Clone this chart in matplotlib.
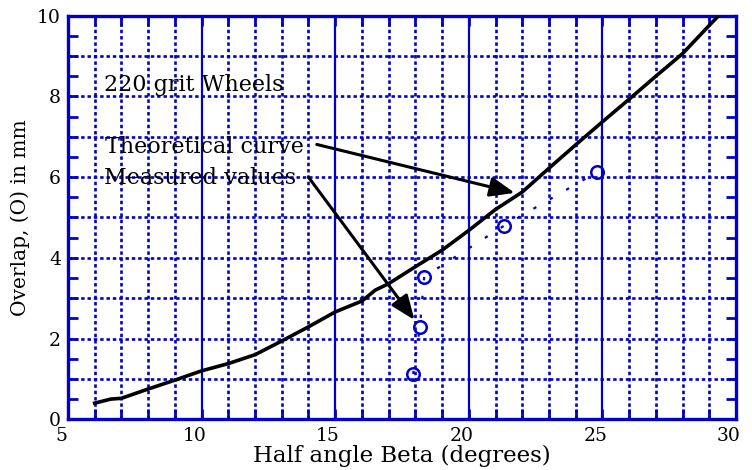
import matplotlib
matplotlib.use("Agg")
import matplotlib.pyplot as plt
import matplotlib.transforms as mtransforms
from matplotlib.ticker import MultipleLocator

# Theoretical curve
theory_beta = [6.0, 6.6, 7.0, 8.0, 9.0, 10.0, 11.0, 12.0, 13.0, 14.0, 15.0, 16.0, 16.5,
               17.0, 18.0, 19.0, 20.0, 21.0, 22.0, 23.0, 24.0, 25.0, 26.0, 27.0, 28.0, 29.0, 29.35]
theory_overlap = [0.40, 0.50, 0.52, 0.75, 0.97, 1.20, 1.38, 1.60, 1.94, 2.29, 2.66, 2.93, 3.20,
                  3.36, 3.78, 4.19, 4.68, 5.20, 5.63, 6.22, 6.80, 7.37, 7.93, 8.50, 9.06, 9.76, 10.0]

# Measured values
meas_beta = [17.92, 18.17, 18.33, 21.33, 24.81]
meas_overlap = [1.12, 2.29, 3.53, 4.80, 6.13]

BLUE = "#0000CC"
SERIF = ["DejaVu Serif"]

fig = plt.figure(figsize=(7.52, 4.70), dpi=100)
ax = fig.add_axes([0.0904, 0.1079, 0.8883, 0.8587])

ax.set_xlim(5, 30)
ax.set_ylim(0, 10)

# grid: dotted every unit, solid at multiples of 5 (x)
for xv in range(6, 30):
    if xv % 5 == 0:
        ax.axvline(xv, color=BLUE, lw=1.6, zorder=1)
    else:
        ax.axvline(xv, color=BLUE, lw=1.9, ls=(0, (1.3, 1.1)), zorder=1)
for yv in range(0, 10):
    ax.axhline(yv, color=BLUE, lw=1.9, ls=(0, (1.3, 1.1)), zorder=1)

ax.plot(theory_beta, theory_overlap, color="black", lw=2.6, zorder=3)
ax.plot(meas_beta, meas_overlap, color=BLUE, lw=1.6, ls=(0, (1.5, 7)), zorder=3)
ax.plot(meas_beta, meas_overlap, ls="none", marker="o", ms=9, mfc="none",
        mec=BLUE, mew=1.8, zorder=4)

for s in ax.spines.values():
    s.set_color(BLUE)
    s.set_linewidth(2.4)

ax.xaxis.set_major_locator(MultipleLocator(5))
ax.xaxis.set_minor_locator(MultipleLocator(1))
ax.yaxis.set_major_locator(MultipleLocator(2))
ax.yaxis.set_minor_locator(MultipleLocator(0.5))
ax.tick_params(which="both", direction="in", color=BLUE, width=2, top=True, right=True,
               labelcolor="black", labelsize=13.5)
ax.tick_params(which="major", length=7, pad=5)
ax.tick_params(which="minor", length=7)
shift = mtransforms.ScaledTranslation(-0.07, -0.01, fig.dpi_scale_trans)
for lab in ax.get_xticklabels():
    lab.set_family(SERIF)
    lab.set_transform(lab.get_transform() + shift)
ylabs = ax.get_yticklabels()
for lab in ylabs:
    lab.set_family(SERIF)
ylabs[0].set_transform(ylabs[0].get_transform()
                       + mtransforms.ScaledTranslation(-0.01, 0.04, fig.dpi_scale_trans))

ax.set_xlabel("Half angle Beta (degrees)", fontsize=16.5, family=SERIF, labelpad=0)
ax.set_ylabel("Overlap, (O) in mm", fontsize=14.5, family=SERIF, labelpad=5)

ax.text(6.35, 8.13, "220 grit Wheels", fontsize=16, family=SERIF, va="baseline", zorder=5)
ax.text(6.4, 6.60, "Theoretical curve", fontsize=16, family=SERIF, va="baseline", zorder=5)
ax.text(6.35, 5.84, "Measured values", fontsize=16, family=SERIF, va="baseline", zorder=5)

arrow_kw = dict(arrowstyle="-|>,head_length=1.5,head_width=0.6", color="black", lw=2.2,
                shrinkA=0, shrinkB=0)
ax.annotate("", xy=(21.72, 5.61), xytext=(14.31, 6.81), arrowprops=arrow_kw, zorder=6)
ax.annotate("", xy=(17.97, 2.46), xytext=(14.0, 6.0), arrowprops=arrow_kw, zorder=6)

fig.savefig("out.png", dpi=100)
